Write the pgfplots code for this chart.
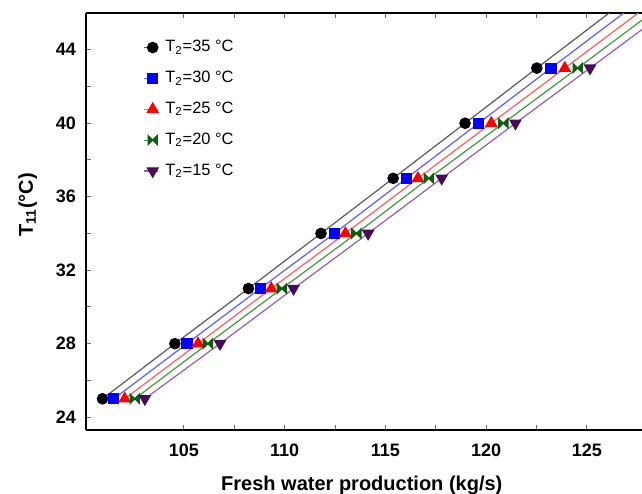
\documentclass[border=0pt]{standalone}
\usepackage{pgfplots}
\pgfplotsset{compat=1.18}
\usepackage{fontspec}
\setmainfont{Liberation Sans}
\usetikzlibrary{calc}

\definecolor{lblack}{HTML}{5A5A5A}
\definecolor{lblue}{HTML}{5C5CFF}
\definecolor{lred}{HTML}{FF5C5C}
\definecolor{lgreen}{HTML}{3E9A3E}
\definecolor{lpurple}{HTML}{9A5CA6}
\definecolor{mgreen}{HTML}{0B5E0B}
\definecolor{mpurple}{HTML}{4A0A5A}

% horizontal bow tie marker
\pgfdeclareplotmark{bowtie}{%
  \pgfpathmoveto{\pgfqpoint{-\pgfplotmarksize}{\pgfplotmarksize}}%
  \pgfpathlineto{\pgfqpoint{\pgfplotmarksize}{-\pgfplotmarksize}}%
  \pgfpathlineto{\pgfqpoint{\pgfplotmarksize}{\pgfplotmarksize}}%
  \pgfpathlineto{\pgfqpoint{-\pgfplotmarksize}{-\pgfplotmarksize}}%
  \pgfpathclose
  \pgfusepathqfillstroke}

\begin{document}
\begin{tikzpicture}
\begin{axis}[
  scale only axis,
  width=278pt, height=208.5pt,
  xmin=100.14, xmax=127.73,
  ymin=23.3, ymax=46,
  axis x line*=box, axis y line*=left,
  axis line style={line width=1pt},
  xtick={105,110,...,125}, minor x tick num=1,
  ytick={24,28,...,44}, minor y tick num=1,
  major tick length=2.5pt, minor tick length=2.5pt,
  tick style={black!60, line width=0.5pt},
  /pgf/number format/assume math mode=true,
  tick label style={font=\fontsize{9}{10}\selectfont\bfseries},
  xticklabel style={yshift=-3.5pt},
  yticklabel style={xshift=-1.5pt},
  xlabel={\textbf{Fresh water production (kg/s)}},
  ylabel={\textbf{T\textsubscript{11}(°C)}},
  label style={font=\fontsize{10}{12}\selectfont},
  xlabel style={at={(axis description cs:0.496,0)}, anchor=base, yshift=-30pt},
  ylabel style={at={(axis description cs:-0.105,0.54)}, anchor=center},
  set layers, mark layer=axis foreground,
  legend cell align=left,
  legend style={draw=none, fill=none, inner sep=0pt,
    at={(axis description cs:0.102,0.945)}, anchor=north west,
    font=\fontsize{8.2}{10}\selectfont, row sep=4.2pt},
  legend image code/.code={%
    \draw[mark repeat=2,mark phase=2] plot coordinates {(0pt,0pt) (4.5pt,0pt) (7pt,0pt)};
    \path (8.5pt,0pt);},
]
\coordinate (bl) at (rel axis cs:0,0);
\coordinate (tr) at (rel axis cs:1,1);

\addplot[lblack, line width=0.6pt, mark=*, mark size=2.6pt,
  mark options={draw=black, fill=black}] coordinates {
  (100.96,25) (104.55,28) (108.20,31) (111.80,34) (115.38,37) (118.95,40) (122.51,43)};
\addlegendentry{T\textsubscript{2}=35 °C}
\addplot[forget plot, lblack, line width=0.6pt] coordinates {(122.51,43) (126.70,46.5)};

\addplot[lblue, line width=0.6pt, mark=square*, mark size=2.5pt,
  mark options={draw=blue, fill=blue}] coordinates {
  (101.52,25) (105.15,28) (108.78,31) (112.46,34) (116.04,37) (119.62,40) (123.21,43)};
\addlegendentry{T\textsubscript{2}=30 °C}
\addplot[forget plot, lblue, line width=0.6pt] coordinates {(123.21,43) (127.43,46.5)};

\addplot[lred, line width=0.6pt, mark=triangle*, mark size=3.1pt,
  mark options={draw=red, fill=red}] coordinates {
  (102.06,25) (105.70,28) (109.33,31) (113.01,34) (116.61,37) (120.25,40) (123.90,43)};
\addlegendentry{T\textsubscript{2}=25 °C}
\addplot[forget plot, lred, line width=0.6pt] coordinates {(123.90,43) (128.15,46.5)};

\addplot[lgreen, line width=0.6pt, mark=bowtie, mark size=2.3pt,
  mark options={draw=mgreen, fill=mgreen}] coordinates {
  (102.56,25) (106.19,28) (109.86,31) (113.56,34) (117.15,37) (120.85,40) (124.54,43)};
\addlegendentry{T\textsubscript{2}=20 °C}
\addplot[forget plot, lgreen, line width=0.6pt] coordinates {(124.54,43) (128.81,46.5)};

\addplot[lpurple, line width=0.6pt, mark=triangle*, mark size=3.1pt,
  mark options={draw=mpurple, fill=mpurple, rotate=180}] coordinates {
  (103.06,25) (106.79,28) (110.44,31) (114.14,34) (117.79,37) (121.45,40) (125.15,43)};
\addlegendentry{T\textsubscript{2}=15 °C}
\addplot[forget plot, lpurple, line width=0.6pt] coordinates {(125.15,43) (129.45,46.5)};
\end{axis}
\pgfresetboundingbox
\path ($(bl)+(-43pt,-31.5pt)$) rectangle ($(tr)+(0pt,6.5pt)$);
\end{tikzpicture}
\end{document}
